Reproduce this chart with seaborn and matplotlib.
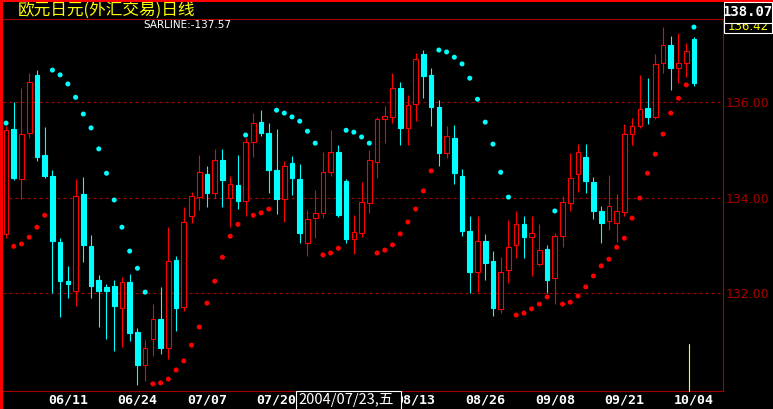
import matplotlib
matplotlib.use('Agg')
import matplotlib.pyplot as plt
from matplotlib.patches import Rectangle
from matplotlib.lines import Line2D
import numpy as np
import pandas as pd
import seaborn as sns

# EUR/JPY daily bars, 2004-06-01 .. 2004-10-04 (one per weekday)
open_p = [133.24, 135.43, 134.39, 135.35, 136.57, 134.89, 134.45, 133.07, 132.25, 132.04,
          134.07, 132.98, 132.27, 132.13, 132.15, 131.69, 132.23, 131.18, 130.49, 131.04,
          131.46, 130.85, 132.69, 131.71, 133.61, 134.01, 134.49, 134.09, 134.79, 133.99,
          134.26, 133.93, 135.16, 135.58, 135.35, 134.58, 133.97, 134.72, 134.39, 133.05,
          133.57, 133.68, 134.53, 134.95, 134.35, 133.13, 133.26, 133.89, 134.74, 135.64,
          135.69, 136.29, 135.46, 135.96, 137.00, 136.57, 135.90, 134.93, 135.25, 134.45,
          133.30, 132.44, 133.09, 132.67, 131.67, 132.48, 133.01, 133.44, 133.17, 132.61,
          132.92, 132.31, 133.19, 133.89, 134.49, 134.85, 134.32, 133.72, 133.51, 133.47,
          133.70, 135.33, 135.50, 135.87, 135.69, 136.82, 137.19, 136.71, 136.82, 137.32]
high_p = [135.50, 136.00, 136.29, 136.61, 136.67, 135.48, 134.58, 133.15, 132.57, 134.39,
          134.43, 133.21, 132.38, 132.19, 132.27, 132.34, 132.40, 131.27, 131.02, 131.77,
          132.13, 133.38, 132.77, 133.80, 134.12, 134.89, 134.66, 135.02, 135.02, 134.45,
          134.89, 135.25, 135.77, 135.83, 135.56, 135.43, 134.76, 134.87, 134.70, 133.74,
          134.16, 134.95, 135.41, 135.10, 134.39, 133.63, 134.32, 134.99, 135.69, 135.92,
          136.61, 136.42, 136.15, 137.03, 137.09, 136.71, 136.04, 135.50, 135.52, 134.60,
          133.61, 133.61, 133.24, 132.88, 132.75, 133.53, 133.72, 133.61, 133.61, 133.44,
          133.01, 133.26, 134.03, 134.93, 135.12, 135.12, 134.43, 133.82, 134.47, 134.07,
          135.54, 135.66, 136.57, 136.50, 137.00, 137.57, 137.38, 137.45, 137.24, 137.36]
low_p = [133.15, 134.37, 133.97, 135.25, 134.76, 134.41, 132.00, 131.50, 131.90, 131.73,
         132.65, 131.90, 131.29, 131.04, 130.79, 130.87, 130.99, 130.07, 130.16, 130.68,
         130.72, 130.62, 131.20, 131.62, 133.47, 133.74, 133.80, 133.99, 133.80, 133.38,
         133.76, 133.61, 134.85, 135.29, 134.09, 133.65, 133.49, 134.05, 133.05, 132.77,
         133.15, 133.57, 134.45, 133.59, 133.05, 132.82, 133.17, 133.68, 134.41, 135.14,
         135.56, 135.10, 135.10, 135.60, 136.08, 135.50, 134.66, 134.83, 134.28, 133.19,
         132.00, 132.02, 132.27, 131.52, 131.58, 132.21, 132.73, 132.73, 132.36, 132.57,
         132.00, 131.77, 132.96, 133.72, 134.12, 134.09, 133.55, 133.05, 133.32, 133.07,
         133.61, 135.10, 135.46, 135.54, 135.64, 136.61, 136.25, 136.40, 136.52, 136.34]
close_p = [135.41, 134.41, 135.33, 136.42, 134.85, 134.45, 133.09, 132.25, 132.19, 134.03,
           133.01, 132.15, 132.04, 132.04, 131.73, 132.23, 131.16, 130.49, 130.85, 131.46,
           130.85, 132.67, 131.69, 133.49, 134.03, 134.53, 134.09, 134.79, 134.37, 134.28,
           133.93, 135.16, 135.56, 135.35, 134.58, 133.97, 134.66, 134.41, 133.26, 133.55,
           133.68, 134.53, 134.95, 133.63, 133.13, 133.28, 133.91, 134.79, 135.64, 135.71,
           136.29, 135.46, 135.94, 136.90, 136.54, 135.90, 134.93, 135.29, 134.51, 133.30,
           132.44, 133.09, 132.63, 131.69, 132.44, 132.96, 133.44, 133.17, 133.26, 132.90,
           132.27, 133.19, 133.91, 134.41, 134.95, 134.35, 133.72, 133.47, 133.82, 133.72,
           135.33, 135.50, 135.85, 135.69, 136.80, 137.19, 136.71, 136.82, 137.07, 136.40]
sar_p = [135.56, 132.98, 133.03, 133.17, 133.38, 133.63, 136.67, 136.57, 136.38, 136.10,
         135.75, 135.46, 135.02, 134.51, 133.95, 133.38, 132.88, 132.52, 132.02, 130.10,
         130.12, 130.20, 130.39, 130.58, 130.91, 131.29, 131.79, 132.25, 132.75, 133.19,
         133.44, 135.31, 133.63, 133.68, 133.76, 135.83, 135.77, 135.69, 135.60, 135.39,
         135.14, 132.80, 132.84, 132.94, 135.41, 135.37, 135.27, 135.14, 132.84, 132.90,
         133.01, 133.24, 133.49, 133.76, 134.14, 134.56, 137.09, 137.05, 136.94, 136.80,
         136.50, 136.06, 135.58, 135.12, 134.53, 134.01, 131.54, 131.58, 131.67, 131.77,
         131.92, 133.72, 131.77, 131.81, 131.94, 132.13, 132.36, 132.57, 132.71, 132.96,
         133.15, 133.57, 133.99, 134.51, 134.91, 135.33, 135.77, 136.08, 136.36, 137.57]

# 08/02 (bar 44) sits under the cursor box in the original, so it is left out
tick_pos = [8, 17, 26, 35, 53, 62, 71, 80, 89]
tick_labels = ["06/11", "06/24", "07/07", "07/20",
               "08/13", "08/26", "09/08", "09/21", "10/04"]
grid_levels = [132, 134, 136]
title = "欧元日元(外汇交易)日线"
sar_text = "SARLINE:-137.57"
cursor_text = "2004/07/23,五"
cursor_price = "138.07"
last_close = "136.42"

RED = '#ff0000'
CYAN = '#00ffff'
DARKRED = '#a80000'

sns.set_style("dark", {"axes.facecolor": "black", "figure.facecolor": "black"})
plt.rcParams['font.family'] = ['Noto Sans CJK SC', 'DejaVu Sans']

W, H = 773, 409
fig = plt.figure(figsize=(W / 100, H / 100), dpi=100)
ax = fig.add_axes([3 / W, 1 - 391 / H, 720 / W, 372 / H])
ax.set_facecolor('black')

df = pd.DataFrame({'open': open_p, 'high': high_p, 'low': low_p,
                   'close': close_p, 'sar': sar_p})
df['idx'] = np.arange(len(df))
df['up'] = df['close'] >= df['open']
df['side'] = np.where(df['sar'] > df['close'], 'down', 'up')

for is_up, grp in df.groupby('up'):
    col = RED if is_up else CYAN
    ax.vlines(grp['idx'], grp['low'], grp['high'], color=col, lw=0.8, zorder=2)
    ax.bar(grp['idx'], grp['close'] - grp['open'], bottom=grp['open'], width=0.6,
           facecolor='black' if is_up else CYAN, edgecolor=col, linewidth=0.8, zorder=3)

sns.scatterplot(data=df, x='idx', y='sar', hue='side',
                palette={'up': RED, 'down': CYAN}, s=13, linewidth=0,
                legend=False, ax=ax, zorder=4)

for lv in grid_levels:
    ax.axhline(lv, color=DARKRED, lw=0.8, dashes=(2.7, 2.7), zorder=1)

ax.set_xlim(-0.39, 92.76)
ax.set_ylim(129.95, 137.74)
ax.set_xlabel('')
ax.set_ylabel('')

ax.set_xticks(tick_pos)
ax.set_xticklabels(tick_labels, family='DejaVu Sans Mono', fontweight='bold',
                   fontsize=9.5, color='white')
ax.yaxis.tick_right()
ax.set_yticks(grid_levels)
ax.set_yticklabels([f"{v:.2f}" for v in grid_levels], family='DejaVu Sans',
                   fontsize=9, color=DARKRED)
ax.tick_params(axis='x', length=0, pad=2)
ax.tick_params(axis='y', length=0, pad=2)
ax.grid(False)

for side in ['top', 'bottom', 'right']:
    ax.spines[side].set_color(DARKRED)
    ax.spines[side].set_linewidth(0.8)
    ax.spines[side].set_visible(True)
ax.spines['left'].set_visible(False)

# frame borders
fig.patches.append(Rectangle((0, 0), 3 / W, 1, transform=fig.transFigure,
                             facecolor=RED, edgecolor='none', zorder=10))
fig.patches.append(Rectangle((0, 1 - 2 / H), 1, 2 / H, transform=fig.transFigure,
                             facecolor=RED, edgecolor='none', zorder=10))

fig.text(18 / W, 1 - 10 / H, title, color='#ffff00', fontsize=12, va='center')
fig.text(143 / W, 1 - 25 / H, sar_text, color='white', fontsize=7.5,
         family='DejaVu Sans', va='center')

# price boxes at right top
fig.patches.append(Rectangle((724 / W, 1 - 33 / H), 48 / W, 12 / H, transform=fig.transFigure,
                             facecolor='black', edgecolor='white', lw=0.8, zorder=11))
fig.text(748 / W, 1 - 27 / H, last_close, color='#ffff00', fontsize=8.5,
         family='DejaVu Sans', ha='center', va='center', zorder=12)
fig.patches.append(Rectangle((724 / W, 1 - 23 / H), 48 / W, 21 / H, transform=fig.transFigure,
                             facecolor='black', edgecolor='white', lw=0.8, zorder=13))
fig.text(748 / W, 1 - 12 / H, cursor_price, color='white', fontsize=10,
         family='DejaVu Sans Mono', fontweight='bold', ha='center', va='center', zorder=14)

# cursor date box at bottom
fig.patches.append(Rectangle((296 / W, -0.01), 105 / W, 18.5 / H + 0.01, transform=fig.transFigure,
                             facecolor='black', edgecolor='white', lw=0.8, zorder=11))
fig.text(298 / W, 1 - 400 / H, cursor_text, color='white', fontsize=10.5,
         va='center', zorder=12)

fig.lines.append(Line2D([689 / W, 689 / W], [1 - 391 / H, 1 - 344 / H],
                        transform=fig.transFigure, color='#ffff00', lw=0.8, zorder=10))

fig.savefig('out.png', dpi=100, facecolor='black')
plt.close(fig)
